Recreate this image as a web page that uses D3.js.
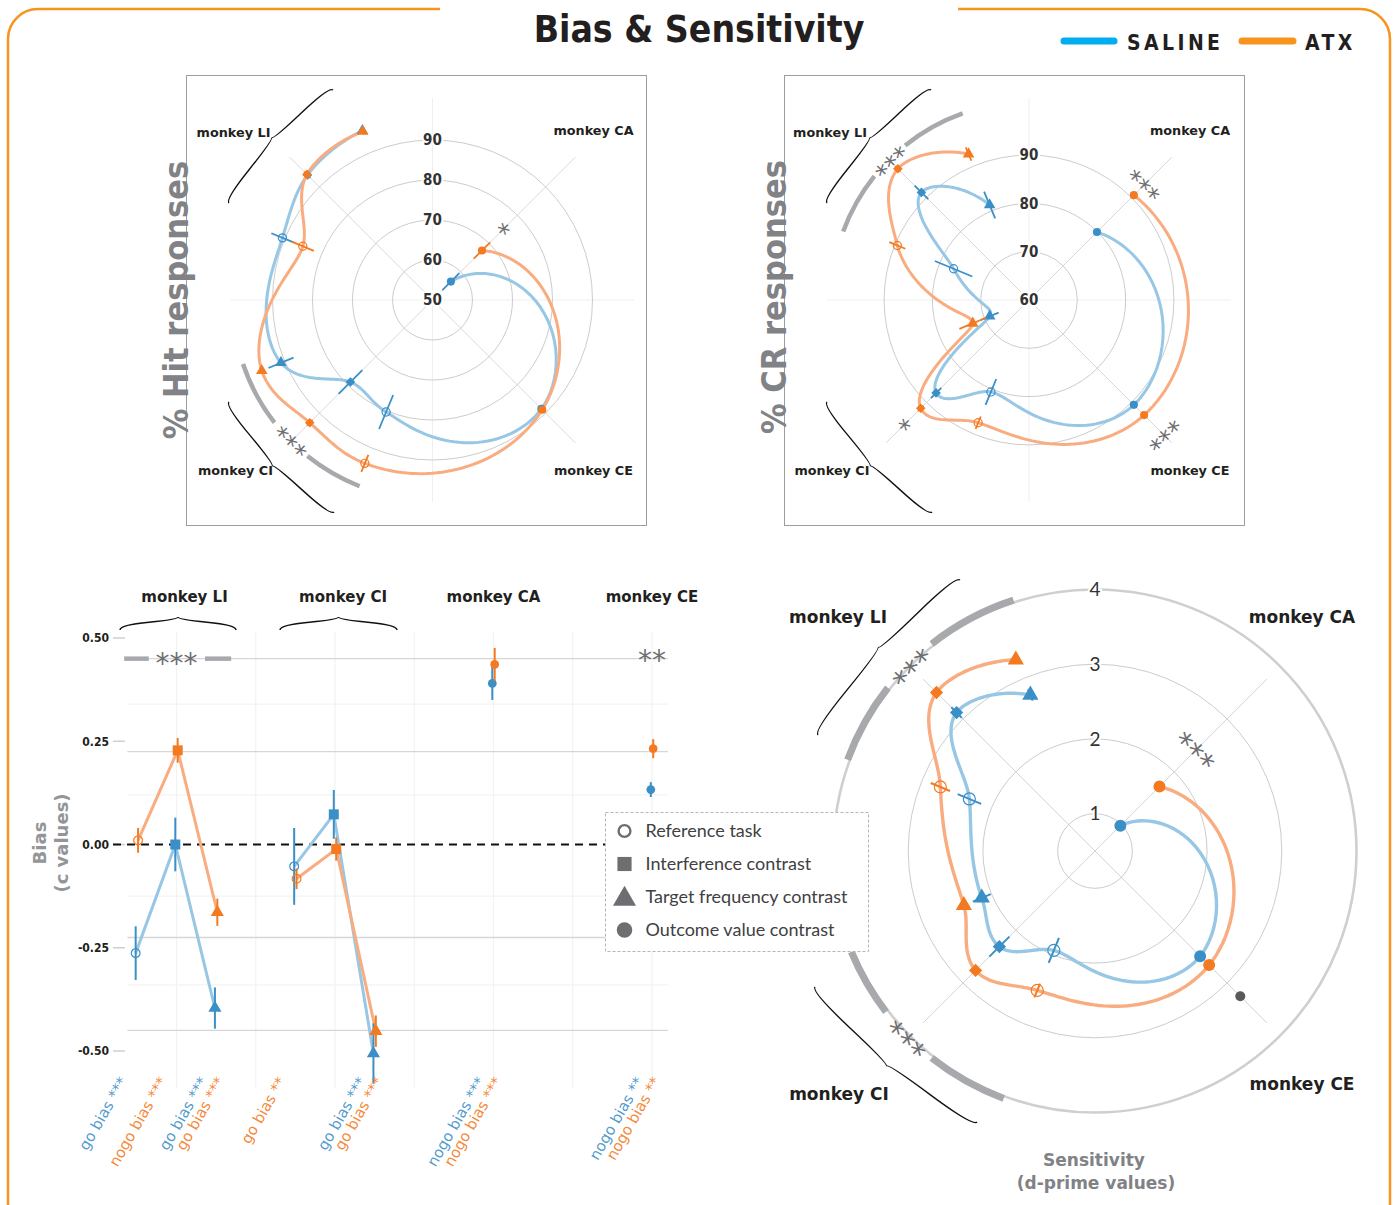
<!DOCTYPE html>
<html><head><meta charset="utf-8">
<script src="https://cdn.jsdelivr.net/npm/d3@7"></script>
<style>
body{margin:0;background:#fff;}
svg{display:block;}
</style></head><body>
<svg id="chart" width="1394" height="1205"></svg>
<script>
// ================= DATA =================
// polar conditions (ordered by angular slot, 16 slots around the circle)
const conditions = ["CA outcome","CE outcome","CI reference","CI interference","CI target","LI reference","LI interference","LI target"];
const condShape  = ["outcome","outcome","ref","inter","target","ref","inter","target"];
const polarSlot  = [2, 6, 9, 10, 11, 13, 14, 15];

// % Hit responses
const hitSaline    = [56.5, 88.5, 80.3, 79.0, 91.0, 90.6, 94.2, 95.8];
const hitSalineErr = [3.0, 1.0, 4.6, 4.2, 3.4, 3.0, 1.0, 0.8];
const hitAtx       = [67.5, 88.8, 94.2, 93.4, 96.2, 85.1, 94.4, 95.6];
const hitAtxErr    = [2.9, 1.0, 2.3, 1.0, 0.8, 3.0, 1.0, 0.8];
const hitRings     = [60, 70, 80, 90];
const hitRingLabels= [50, 60, 70, 80, 90];

// % CR responses
const crSaline    = [79.9, 90.7, 80.6, 87.2, 68.8, 76.9, 91.5, 81.3];
const crSalineErr = [0.8, 0.8, 2.9, 1.5, 2.0, 4.2, 2.0, 3.0];
const crAtx       = [90.7, 93.7, 87.5, 91.7, 72.6, 89.5, 98.4, 92.7];
const crAtxErr    = [0.8, 0.8, 1.4, 0.8, 3.0, 1.8, 0.8, 1.5];
const crRings     = [70, 80, 90];
const crRingLabels= [60, 70, 80, 90];

// Sensitivity (d-prime)
const dprimeSaline    = [0.98, 2.49, 1.94, 2.31, 2.14, 2.32, 3.12, 2.76];
const dprimeSalineErr = [0.05, 0.03, 0.18, 0.19, 0.13, 0.17, 0.10, 0.08];
const dprimeAtx       = [1.72, 2.66, 2.52, 2.76, 2.40, 2.74, 3.50, 3.27];
const dprimeAtxErr    = [0.06, 0.03, 0.10, 0.04, 0.04, 0.14, 0.04, 0.06];
const dprimeExtraSlot = [6];
const dprimeExtraVal  = [3.25];
const dprimeRings     = [1, 2, 3, 4];

// significance annotations for polar panels (slot, value, text) and arcs [slotStart, slotEnd, value]
const hitStars   = [[2, 75.6, "*"], [10, 99.4, "***"]];
const hitArcs    = [[8.95, 9.72, 100.0], [10.32, 11.17, 100.0]];
const crStars    = [[2, 94.2, "***"], [6, 99.3, "***"], [10, 96.1, "*"], [14, 101.0, "***"]];
const crArcs     = [[12.9, 13.72, 101.0], [14.28, 15.13, 101.0]];
const dpStars    = [[2, 2.45, "***"], [14, 4.02, "***"], [10, 4.02, "***"]];
const dpArcs     = [[12.9, 13.7, 4.03], [14.3, 15.2, 4.03], [8.9, 9.7, 4.03], [10.33, 11.0, 4.03]];

// Bias (c values)
const biasMonkeySlot = [0, 0, 0, 2, 2, 2, 4, 6];      // LI, CI, CA, CE positions
const biasGroup      = ["LI","LI","LI","CI","CI","CI","CA","CE"];
const biasShape      = ["ref","inter","target","ref","inter","target","outcome","outcome"];
const biasSaline     = [-0.263, 0.000, -0.396, -0.053, 0.073, -0.506, 0.390, 0.133];
const biasSalineErr  = [0.065, 0.065, 0.050, 0.093, 0.059, 0.073, 0.040, 0.018];
const biasAtx        = [0.010, 0.228, -0.164, -0.083, -0.011, -0.452, 0.436, 0.232];
const biasAtxErr     = [0.030, 0.030, 0.033, 0.025, 0.028, 0.038, 0.040, 0.023];
const biasTicks      = [0.5, 0.25, 0, -0.25, -0.5];
const biasTickLabels = ["0.50", "0.25", "0.00", "-0.25", "-0.50"];
const biasRefLines   = [0.45, 0.225, -0.225, -0.45];
const biasMinorLines = [0.34, 0.12, -0.125, -0.34];
const biasMonkeys    = ["monkey LI", "monkey CI", "monkey CA", "monkey CE"];
const biasMonkeyPos  = [0, 2, 4, 6];
const biasLabelSlot  = [-0.5, 0, 0.5, 0.5, 1.5, 2.5, 2.5, 4, 4, 6, 6];
const biasLabelText  = ["go bias ***","nogo bias ***","go bias ***","go bias ***","go bias **","go bias ***","go bias ***","nogo bias ***","nogo bias ***","nogo bias **","nogo bias **"];
const biasLabelSeries= ["saline","atx","saline","atx","atx","saline","atx","saline","atx","saline","atx"];
const biasLabelPair  = [false,false,true,true,false,true,true,true,true,true,true];

const legendShapes = ["ref","inter","target","outcome"];
const legendLabels = ["Reference task","Interference contrast","Target frequency contrast","Outcome value contrast"];

// ================= STYLE =================
const COL = {
  saline: {pt: "#3b8fc7", line: "#97c7e4"},
  atx:    {pt: "#f47a21", line: "#f9ac80"}
};
const SANS = "'DejaVu Sans', Arial, sans-serif";
const COND = "'DejaVu Sans Condensed', 'DejaVu Sans', sans-serif";
const STAR = "#6d6e71";

const svg = d3.select("#chart");

// ---------- helpers ----------
function symbolPath(shape, sizes) {
  const type = shape === "inter" ? d3.symbolSquare : shape === "target" ? d3.symbolTriangle : d3.symbolCircle;
  const area = shape === "inter" ? sizes.square : shape === "target" ? sizes.tri : sizes.circle;
  return d3.symbol(type, area)();
}
function drawMarker(g, shape, x, y, sizes, color, rotSquare) {
  const p = g.append("path")
    .attr("d", symbolPath(shape, sizes))
    .attr("transform", `translate(${x},${y})` + (shape === "inter" && rotSquare ? " rotate(45)" : ""));
  if (shape === "ref") p.attr("fill", "none").attr("stroke", color).attr("stroke-width", 1.2);
  else p.attr("fill", color);
  return p;
}
function brace(x1, y1, x2, y2, w, q) {
  let dx = x1 - x2, dy = y1 - y2;
  const len = Math.hypot(dx, dy);
  dx /= len; dy /= len;
  const qx1 = x1 + q * w * dy, qy1 = y1 - q * w * dx;
  const qx2 = (x1 - .25 * len * dx) + (1 - q) * w * dy, qy2 = (y1 - .25 * len * dy) - (1 - q) * w * dx;
  const tx1 = (x1 - .5 * len * dx) + w * dy, ty1 = (y1 - .5 * len * dy) - w * dx;
  const qx3 = x2 + q * w * dy, qy3 = y2 - q * w * dx;
  const qx4 = (x1 - .75 * len * dx) + (1 - q) * w * dy, qy4 = (y1 - .75 * len * dy) - (1 - q) * w * dx;
  return `M${x1},${y1} Q${qx1},${qy1} ${qx2},${qy2} T${tx1},${ty1} M${x2},${y2} Q${qx3},${qy3} ${qx4},${qy4} T${tx1},${ty1}`;
}
// smooth curve in (angle, radius) space, drawn radially
function polarCurve(points) {
  const S = 150;
  const samples = [];
  let cx = 0, cy = 0;
  const ctx = {
    moveTo(x, y) { samples.push([x, y]); cx = x; cy = y; },
    lineTo(x, y) { for (let i = 1; i <= 16; i++) { const t = i / 16; samples.push([cx + (x - cx) * t, cy + (y - cy) * t]); } cx = x; cy = y; },
    bezierCurveTo(x1, y1, x2, y2, x, y) {
      for (let i = 1; i <= 40; i++) {
        const t = i / 40, u = 1 - t;
        samples.push([u*u*u*cx + 3*u*u*t*x1 + 3*u*t*t*x2 + t*t*t*x, u*u*u*cy + 3*u*u*t*y1 + 3*u*t*t*y2 + t*t*t*y]);
      }
      cx = x; cy = y;
    },
    closePath() {}
  };
  d3.line().x(d => d.a * S).y(d => d.r).curve(d3.curveCatmullRom.alpha(0.5)).context(ctx)(points);
  return d3.lineRadial().angle(d => d[0] / S).radius(d => Math.max(0, d[1]))(samples);
}

// ---------- generic polar panel ----------
function drawPolar(o) {
  const g = svg.append("g").attr("transform", `translate(${o.cx},${o.cy})`);
  const r = d3.scaleLinear().domain(o.rDomain).range([0, o.rMax]);
  const ang = d3.scaleLinear().domain([0, 16]).range([0, 2 * Math.PI]);
  const pos = (slot, v) => { const a = ang(slot), rr = r(v); return [rr * Math.sin(a), -rr * Math.cos(a)]; };

  // spokes
  if (o.cardinal) {
    g.selectAll(null).data([0, 4, 8, 12]).join("line")
      .attr("x1", 0).attr("y1", 0)
      .attr("x2", d => o.spokeR * Math.sin(ang(d))).attr("y2", d => -o.spokeR * Math.cos(ang(d)))
      .attr("stroke", "#efefef").attr("stroke-width", 1);
  }
  g.selectAll(null).data([2, 6, 10, 14]).join("line")
    .attr("x1", 0).attr("y1", 0)
    .attr("x2", d => o.spokeR * Math.sin(ang(d))).attr("y2", d => -o.spokeR * Math.cos(ang(d)))
    .attr("stroke", o.spokeColor).attr("stroke-width", 1);

  // rings
  g.selectAll(null).data(o.rings).join("circle")
    .attr("r", d => r(d)).attr("fill", "none")
    .attr("stroke", d => (o.outerRing && d === o.outerRing) ? "#cfcfcf" : "#cccccc")
    .attr("stroke-width", d => (o.outerRing && d === o.outerRing) ? 2.6 : 1);

  // significance arcs
  o.arcs.forEach(a => {
    g.append("path")
      .attr("d", d3.arc()({innerRadius: r(a[2]) - o.arcW / 2, outerRadius: r(a[2]) + o.arcW / 2,
        startAngle: ang(a[0]), endAngle: ang(a[1]), cornerRadius: o.arcW / 2}))
      .attr("fill", "#a7a9ac");
  });

  // ring labels
  g.selectAll(null).data(o.ringLabels).join("text")
    .attr("x", 0).attr("y", d => -r(d)).attr("dy", "0.36em")
    .attr("text-anchor", "middle")
    .style("font-family", o.labelFont).style("font-size", o.labelSize + "px")
    .style("font-weight", o.labelWeight).attr("fill", "#333")
    .attr("stroke", "#fff").attr("stroke-width", 4).attr("paint-order", "stroke")
    .text(d => d);

  // curves
  const series = [["saline", o.saline, o.salineErr], ["atx", o.atx, o.atxErr]];
  series.forEach(([key, vals]) => {
    const pts = polarSlot.map((s, i) => ({a: ang(s), r: r(vals[i])})).sort((p, q) => p.a - q.a);
    g.append("path").attr("d", polarCurve(pts)).attr("fill", "none")
      .attr("stroke", COL[key].line).attr("stroke-width", o.lineW).attr("stroke-linecap", "round");
  });

  // extra points
  (o.extra || []).forEach(e => {
    const [x, y] = pos(e[0], e[1]);
    g.append("circle").attr("cx", x).attr("cy", y).attr("r", o.extraR).attr("fill", "#58595b");
  });

  // error bars + markers
  series.forEach(([key, vals, errs]) => {
    polarSlot.forEach((s, i) => {
      const [x1, y1] = pos(s, vals[i] - errs[i]);
      const [x2, y2] = pos(s, vals[i] + errs[i]);
      g.append("line").attr("x1", x1).attr("y1", y1).attr("x2", x2).attr("y2", y2)
        .attr("stroke", COL[key].pt).attr("stroke-width", o.errW);
      const [x, y] = pos(s, vals[i]);
      drawMarker(g, condShape[i], x, y, o.sizes, COL[key].pt, true);
    });
  });

  // stars
  o.stars.forEach(st => {
    const deg = ang(st[0]) * 180 / Math.PI;
    const rot = deg - 180 * Math.round(deg / 180);
    const [x, y] = pos(st[0], st[1]);
    g.append("text").attr("transform", `translate(${x},${y}) rotate(${rot})`)
      .attr("text-anchor", "middle").attr("dy", "0.58em")
      .style("font-family", SANS).style("font-size", o.starSize + "px")
      .attr("fill", STAR).text(st[2]);
  });

  // monkey labels
  o.monkeyLabels.forEach(m => {
    g.append("text").attr("x", m[1]).attr("y", m[2]).attr("text-anchor", "middle").attr("dy", "0.36em")
      .style("font-family", SANS).style("font-weight", "bold").style("font-size", o.monkeySize + "px")
      .attr("fill", "#231f20").text(m[0]);
  });
  return g;
}

// ================= FRAME & TITLE =================
svg.append("path").attr("d", "M440,9 H38 A30,30 0 0 0 8,39 V1210 M958,9 H1360 A30,30 0 0 1 1390,39 V1210")
  .attr("fill", "none").attr("stroke", "#f7941d").attr("stroke-width", 2.5);
svg.append("text").attr("x", 699).attr("y", 42).attr("text-anchor", "middle")
  .style("font-family", COND).style("font-weight", "bold").style("font-size", "37px")
  .attr("fill", "#231f20").text("Bias & Sensitivity");
// series legend
[["saline", "SALINE", 1064, 1114, 1127, "#00aeef"], ["atx", "ATX", 1242, 1293, 1305, "#f7941d"]].forEach(l => {
  svg.append("line").attr("x1", l[2]).attr("x2", l[3]).attr("y1", 41).attr("y2", 41)
    .attr("stroke", l[5]).attr("stroke-width", 7).attr("stroke-linecap", "round");
  svg.append("text").attr("x", l[4]).attr("y", 50)
    .style("font-family", COND).style("font-weight", "bold").style("font-size", "21px")
    .style("letter-spacing", "3.4px").attr("fill", "#231f20").text(l[1]);
});

// ================= TOP PANELS =================
svg.append("rect").attr("x", 186.5).attr("y", 75.5).attr("width", 460).attr("height", 450)
  .attr("fill", "none").attr("stroke", "#9d9d9d");
svg.append("rect").attr("x", 784.5).attr("y", 75.5).attr("width", 460).attr("height", 450)
  .attr("fill", "none").attr("stroke", "#9d9d9d");

const topMonkeys = [["monkey LI", -199, -168], ["monkey CA", 161, -170], ["monkey CI", -197, 170], ["monkey CE", 161, 170]];

drawPolar({cx: 432.5, cy: 300, rDomain: [50, 100], rMax: 200, rings: hitRings, ringLabels: hitRingLabels,
  cardinal: true, spokeR: 202, spokeColor: "#d9d9d9", arcs: hitArcs, arcW: 4.5,
  labelFont: COND, labelSize: 15, labelWeight: "bold",
  saline: hitSaline, salineErr: hitSalineErr, atx: hitAtx, atxErr: hitAtxErr,
  lineW: 3, errW: 1.8, sizes: {circle: 52, square: 46, tri: 58},
  stars: hitStars, starSize: 25, monkeyLabels: topMonkeys, monkeySize: 12.8});

drawPolar({cx: 1029, cy: 300, rDomain: [60, 101.4], rMax: 200, rings: crRings, ringLabels: crRingLabels,
  cardinal: true, spokeR: 202, spokeColor: "#d9d9d9", arcs: crArcs, arcW: 4.5,
  labelFont: COND, labelSize: 15, labelWeight: "bold",
  saline: crSaline, salineErr: crSalineErr, atx: crAtx, atxErr: crAtxErr,
  lineW: 3, errW: 1.8, sizes: {circle: 52, square: 46, tri: 58},
  stars: crStars, starSize: 25, monkeyLabels: topMonkeys, monkeySize: 12.8});

svg.append("text").attr("transform", "translate(188,300) rotate(-90)").attr("text-anchor", "middle")
  .style("font-family", COND).style("font-weight", "bold").style("font-size", "34px")
  .attr("fill", "#808285").text("% Hit responses");
svg.append("text").attr("transform", "translate(786,297) rotate(-90)").attr("text-anchor", "middle")
  .style("font-family", COND).style("font-weight", "bold").style("font-size", "34px")
  .attr("fill", "#808285").text("% CR responses");

// ================= BOTTOM-RIGHT: SENSITIVITY =================
drawPolar({cx: 1095, cy: 851, rDomain: [0.5, 4], rMax: 261.5, rings: dprimeRings, ringLabels: dprimeRings,
  outerRing: 4, cardinal: false, spokeR: 243, spokeColor: "#d4d4d4", arcs: dpArcs, arcW: 7,
  labelFont: "Lato, 'Open Sans', sans-serif", labelSize: 19, labelWeight: "normal",
  saline: dprimeSaline, salineErr: dprimeSalineErr, atx: dprimeAtx, atxErr: dprimeAtxErr,
  extra: dprimeExtraSlot.map((s, i) => [s, dprimeExtraVal[i]]), extraR: 5,
  lineW: 3.4, errW: 2, sizes: {circle: 113, square: 88, tri: 115},
  stars: dpStars, starSize: 30,
  monkeyLabels: [["monkey LI", -257, -234], ["monkey CA", 207, -234], ["monkey CI", -256, 243], ["monkey CE", 207, 233]],
  monkeySize: 17});
svg.append("text").attr("x", 1094).attr("y", 1166).attr("text-anchor", "middle")
  .style("font-family", SANS).style("font-weight", "bold").style("font-size", "17px")
  .attr("fill", "#808285").text("Sensitivity");
svg.append("text").attr("x", 1096).attr("y", 1189).attr("text-anchor", "middle")
  .style("font-family", SANS).style("font-weight", "bold").style("font-size", "17px")
  .attr("fill", "#808285").text("(d-prime values)");

// ================= BOTTOM-LEFT: BIAS =================
const bx = d3.scaleLinear().domain([0, 6]).range([176.5, 652]);
const by = d3.scaleLinear().domain([-0.5, 0.5]).range([1051, 638]);
const bg = svg.append("g");
const panelX0 = bx(-0.62), panelX1 = bx(6.2);

// vertical grid
bg.selectAll(null).data(d3.range(0, 7)).join("line")
  .attr("x1", d => bx(d)).attr("x2", d => bx(d)).attr("y1", 632).attr("y2", 1088)
  .attr("stroke", "#f2f2f2").attr("stroke-width", 1.2);
bg.selectAll(null).data(biasMinorLines).join("line")
  .attr("x1", panelX0).attr("x2", panelX1).attr("y1", d => by(d)).attr("y2", d => by(d))
  .attr("stroke", "#f3f3f3").attr("stroke-width", 1.2);
bg.selectAll(null).data(biasRefLines).join("line")
  .attr("x1", panelX0).attr("x2", panelX1).attr("y1", d => by(d)).attr("y2", d => by(d))
  .attr("stroke", "#d6d6d6").attr("stroke-width", 1.4);

// y axis ticks
bg.selectAll(null).data(biasTicks).join("line")
  .attr("x1", 113).attr("x2", 125).attr("y1", d => by(d)).attr("y2", d => by(d))
  .attr("stroke", "#cfcfcf").attr("stroke-width", 1.5);
bg.selectAll(null).data(biasTicks).join("text")
  .attr("x", 109).attr("y", d => by(d)).attr("dy", "0.36em").attr("text-anchor", "end")
  .style("font-family", COND).style("font-weight", "bold").style("font-size", "12px")
  .attr("fill", "#231f20").text((d, i) => biasTickLabels[i]);
bg.append("text").attr("transform", "translate(46,843) rotate(-90)").attr("text-anchor", "middle")
  .style("font-family", SANS).style("font-weight", "bold").style("font-size", "18px")
  .attr("fill", "#939598").text("Bias");
bg.append("text").attr("transform", "translate(68,843) rotate(-90)").attr("text-anchor", "middle")
  .style("font-family", SANS).style("font-weight", "bold").style("font-size", "18px")
  .attr("fill", "#939598").text("(c values)");

// zero line
bg.append("line").attr("x1", 113).attr("x2", panelX1).attr("y1", by(0)).attr("y2", by(0))
  .attr("stroke", "#111").attr("stroke-width", 2.2).attr("stroke-dasharray", "8,6");

// significance bar
bg.append("line").attr("x1", bx(-0.66)).attr("x2", bx(-0.35)).attr("y1", by(0.45)).attr("y2", by(0.45))
  .attr("stroke", "#a7a9ac").attr("stroke-width", 4.5);
bg.append("line").attr("x1", bx(0.36)).attr("x2", bx(0.69)).attr("y1", by(0.45)).attr("y2", by(0.45))
  .attr("stroke", "#a7a9ac").attr("stroke-width", 4.5);
bg.append("text").attr("x", bx(0)).attr("y", by(0.452)).attr("dy", "0.55em").attr("text-anchor", "middle")
  .style("font-family", SANS).style("font-size", "28px").attr("fill", STAR).text("***");
bg.append("text").attr("x", bx(6)).attr("y", by(0.46)).attr("dy", "0.55em").attr("text-anchor", "middle")
  .style("font-family", SANS).style("font-size", "28px").attr("fill", STAR).text("**");

// monkey headers & braces
bg.selectAll(null).data(biasMonkeys).join("text")
  .attr("x", (d, i) => bx(biasMonkeyPos[i]) + 8 * (i < 2 ? 1 : 0)).attr("y", 602).attr("text-anchor", "middle")
  .style("font-family", SANS).style("font-weight", "bold").style("font-size", "15px")
  .attr("fill", "#231f20").text(d => d);

const condOffset = {ref: -0.5, inter: 0, target: 0.5, outcome: 0};
const seriesDodge = {saline: -1.2, atx: 1.2};
const bxPos = (i, key) => bx(biasMonkeySlot[i] + condOffset[biasShape[i]]) + seriesDodge[key];

// lines
[["saline", biasSaline], ["atx", biasAtx]].forEach(([key, vals]) => {
  ["LI", "CI"].forEach(grp => {
    const idx = d3.range(vals.length).filter(i => biasGroup[i] === grp);
    bg.append("path").attr("d", d3.line()(idx.map(i => [bxPos(i, key), by(vals[i])])))
      .attr("fill", "none").attr("stroke", COL[key].line).attr("stroke-width", 3);
  });
});
// error bars + markers
[["saline", biasSaline, biasSalineErr], ["atx", biasAtx, biasAtxErr]].forEach(([key, vals, errs]) => {
  vals.forEach((v, i) => {
    const x = bxPos(i, key);
    bg.append("line").attr("x1", x).attr("x2", x).attr("y1", by(v - errs[i])).attr("y2", by(v + errs[i]))
      .attr("stroke", COL[key].pt).attr("stroke-width", 2);
    drawMarker(bg, biasShape[i], x, by(v), {circle: 60, square: 100, tri: 75}, COL[key].pt, false);
  });
});

// rotated category labels
biasLabelText.forEach((t, i) => {
  const key = biasLabelSeries[i];
  const dx = biasLabelPair[i] ? (key === "saline" ? -8 : 9) : -9;
  bg.append("text").attr("transform", `translate(${bx(biasLabelSlot[i]) + dx},1081) rotate(-60)`)
    .attr("text-anchor", "end")
    .style("font-family", SANS).style("font-size", "15px")
    .attr("fill", COL[key].pt).attr("fill-opacity", 0.9).text(t);
});

// ================= BRACES =================
const braces = [
  [333, 90, 229, 203, 13], [229, 402, 334, 512, 13],
  [931, 90, 827, 203, 13], [827, 402, 932, 512, 13],
  [960, 580, 818, 735, 15], [815, 987, 977, 1122, 15],
  [236, 630, 120, 630, 13], [397, 630, 280, 630, 13]
];
braces.forEach(b => {
  svg.append("path").attr("d", brace(b[0], b[1], b[2], b[3], b[4], 0.4))
    .attr("fill", "none").attr("stroke", "#111").attr("stroke-width", 1.4);
});

// ================= SHAPE LEGEND =================
const lg = svg.append("g").attr("transform", "translate(605.5,812.5)");
lg.append("rect").attr("width", 263).attr("height", 139).attr("fill", "#fff")
  .attr("stroke", "#b5b5b5").attr("stroke-dasharray", "3,2");
legendShapes.forEach((s, i) => {
  const y = 18.5 + i * 33;
  const p = drawMarker(lg, s, 19, y + (s === "target" ? 2 : 0), {circle: s === "ref" ? 110 : 190, square: 200, tri: 230}, "#6d6e71", false);
  if (s === "ref") p.attr("stroke-width", 2.4);
  lg.append("text").attr("x", 40).attr("y", y).attr("dy", "0.36em")
    .style("font-family", "Lato, 'Open Sans', sans-serif").style("font-size", "18px")
    .attr("fill", "#414042").text(legendLabels[i]);
});
</script>
</body></html>
